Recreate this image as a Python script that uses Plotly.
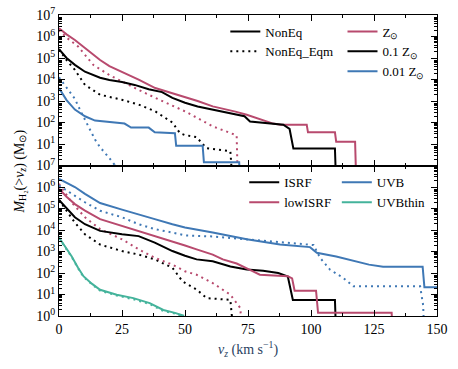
import plotly.graph_objects as go
from plotly.subplots import make_subplots

# colours
PINK = "#b84a6e"
BLUE = "#3f78b5"
TEAL = "#44b39b"
BLACK = "#000000"

# ---- top panel: metallicity runs (solid = NonEq, dotted = NonEq_Eqm)
v_zsun = [0, 3, 6.3, 10.3, 16.3, 20, 24.9, 31.6, 38.2, 44.9, 50, 55, 61, 65, 70, 74.5, 80, 85, 88, 92, 98.3, 98.8, 109.5, 110, 117.5, 118]
m_zsun = [2.4e6, 1.26e6, 6.9e5, 2.95e5, 8.1e4, 4.2e4, 2.3e4, 9.8e3, 4.0e3, 2.3e3, 1.6e3, 1.0e3, 560, 450, 320, 230, 140, 89, 79, 79, 79, 35, 35, 12.6, 12.6, 0.1]

v_z01 = [0, 3, 6.3, 10.3, 16.3, 20, 25, 30, 35.6, 40.9, 45, 50, 55, 61, 68, 73.6, 75.8, 80, 89, 91.5, 93, 109.5, 110]
m_z01 = [2.6e5, 1.0e5, 4.8e4, 2.3e4, 1.2e4, 9.5e3, 7.6e3, 5.6e3, 3.5e3, 2.6e3, 1.4e3, 830, 560, 400, 250, 195, 112, 100, 79, 50, 6.2, 6.2, 0.1]

v_z001 = [0, 3, 6.3, 10.3, 14.3, 22, 26, 28.6, 35.6, 38, 42.3, 46, 46.5, 57, 57.5, 71.5, 72]
m_z001 = [4.0e3, 1.1e3, 400, 195, 123, 100, 89, 58, 58, 35, 32, 32, 8.3, 8.3, 1.4, 1.4, 0.1]

v_zsun_eq = [0, 3, 7.6, 13.6, 20, 24.9, 31.6, 38.2, 44.9, 50, 55, 61, 66, 70.5, 71]
m_zsun_eq = [2.0e6, 8.9e5, 3.4e5, 4.8e4, 1.6e4, 8.1e3, 3.3e3, 1.4e3, 630, 330, 160, 66, 40, 25, 0.1]

v_z01_eq = [0, 3, 6.3, 10.3, 16.3, 24.9, 31.6, 38.2, 45, 48, 50, 54.6, 57, 58.6, 68, 69]
m_z01_eq = [2.5e5, 7.9e4, 2.8e4, 5.6e3, 1.95e3, 1.15e3, 680, 330, 100, 32, 26, 21, 10, 6.3, 4.6, 0.1]

v_z001_eq = [0, 3, 6.3, 8.5, 10.3, 12.3, 14.3, 16.3, 18.3, 20, 22, 22.5]
m_z001_eq = [1.26e4, 4.0e3, 1.26e3, 355, 135, 45, 16, 7.1, 4.0, 2.2, 1.1, 0.1]

# ---- bottom panel: radiation field runs
v_isrf = [0, 3, 6.3, 10.3, 16.3, 25, 31.6, 38, 45, 50, 54.6, 61, 68, 74.5, 81, 87, 90.8, 92.8, 109.5, 110]
m_isrf = [2.5e5, 1.0e5, 3.9e4, 1.86e4, 9.1e3, 6.3e3, 5.2e3, 2.6e3, 1.05e3, 630, 430, 355, 200, 145, 126, 100, 69, 5.6, 5.6, 0.1]

v_low = [0, 3, 6.3, 10.3, 16.3, 25, 31.6, 38, 45, 50, 54.6, 61, 65, 70.5, 77, 79.7, 90.8, 92.5, 93.5, 102, 102.8, 132, 132.5]
m_low = [8.3e5, 3.5e5, 1.6e5, 7.9e4, 3.2e4, 1.55e4, 9.1e3, 5.2e3, 3.1e3, 1.9e3, 1.26e3, 720, 430, 275, 120, 83, 71, 56, 15, 15, 1.4, 1.4, 0.1]

v_uvb = [0, 3, 6.3, 10.3, 16.3, 25, 31.6, 38, 45, 50, 61, 74.5, 87.7, 99.6, 102.3, 110, 123, 128.6, 144.3, 145, 150]
m_uvb = [2.4e6, 1.6e6, 1.0e6, 4.8e5, 1.8e5, 8.9e4, 5.5e4, 3.2e4, 1.86e4, 1.32e4, 7.6e3, 3.7e3, 2.1e3, 1.6e3, 870, 590, 245, 195, 195, 22, 22]

v_thin = [0, 2.5, 5, 7.5, 9.7, 13, 16.3, 22.9, 29.5, 36, 41.4, 46, 49.3, 50]
m_thin = [4.5e3, 1.6e3, 600, 180, 71, 32, 16.6, 9.8, 6.8, 4.0, 1.9, 1.4, 1.05, 0.1]

v_isrf_eq = [0, 3, 6.3, 10.3, 16.3, 25, 31.6, 38, 45, 49, 54.6, 58.6, 68, 69.4]
m_isrf_eq = [2.5e5, 7.9e4, 2.2e4, 6.3e3, 2.1e3, 1.05e3, 720, 430, 175, 41, 17, 6.8, 5.6, 0.1]

v_low_eq = [0, 2, 5, 10.3, 16.3, 25, 31.6, 38, 45, 50, 54.6, 61, 68, 72, 72.5]
m_low_eq = [1.4e6, 6.3e5, 1.95e5, 3.9e4, 1.1e4, 3.7e3, 1.26e3, 510, 245, 120, 83, 34, 9.8, 2.3, 0.1]

v_uvb_eq = [0, 3, 6.3, 10.3, 16.3, 25, 31.6, 38, 45, 50, 61, 74.5, 87.7, 101, 103.6, 107.5, 112.8, 116.8, 143.3, 144.5, 145]
m_uvb_eq = [1.17e6, 7.1e5, 4.0e5, 1.95e5, 7.9e4, 3.9e4, 1.86e4, 1.1e4, 7.6e3, 5.6e3, 5.0e3, 3.7e3, 2.6e3, 2.0e3, 510, 145, 59, 24, 24, 3.2, 0.1]

v_thin_eq = [0, 2.5, 5, 7.5, 9.7, 13, 16.3, 22.9, 29.5, 36, 41.4, 46, 48, 48.5]
m_thin_eq = [4.2e3, 1.5e3, 560, 170, 66, 30, 15, 9.0, 6.0, 3.6, 1.7, 1.3, 1.05, 0.1]

FONT = "Liberation Serif"
DOT = "2px,4px"
LW = 2

fig = make_subplots(rows=2, cols=1, shared_xaxes=True, vertical_spacing=0)


def add_line(x, y, color, row, dash="solid", name=None, legend="legend"):
    fig.add_trace(go.Scatter(x=x, y=y, mode="lines", line=dict(color=color, width=LW, dash=dash),
                             name=name, showlegend=name is not None, legend=legend), row=row, col=1)


# top panel curves
add_line(v_zsun_eq, m_zsun_eq, PINK, 1, DOT)
add_line(v_z01_eq, m_z01_eq, BLACK, 1, DOT)
add_line(v_z001_eq, m_z001_eq, BLUE, 1, DOT)
add_line(v_zsun, m_zsun, PINK, 1, name="Z<sub>⊙</sub>", legend="legend2")
add_line(v_z01, m_z01, BLACK, 1, name="0.1 Z<sub>⊙</sub>", legend="legend2")
add_line(v_z001, m_z001, BLUE, 1, name="0.01 Z<sub>⊙</sub>", legend="legend2")
# style-only legend entries
add_line([None], [None], BLACK, 1, name="NonEq", legend="legend")
add_line([None], [None], BLACK, 1, DOT, name="NonEq_Eqm", legend="legend")

# bottom panel curves
add_line(v_isrf_eq, m_isrf_eq, BLACK, 2, DOT)
add_line(v_low_eq, m_low_eq, PINK, 2, DOT)
add_line(v_uvb_eq, m_uvb_eq, BLUE, 2, DOT)
add_line(v_thin_eq, m_thin_eq, TEAL, 2, DOT)
add_line(v_isrf, m_isrf, BLACK, 2, name="ISRF", legend="legend3")
add_line(v_low, m_low, PINK, 2, name="lowISRF", legend="legend3")
add_line(v_uvb, m_uvb, BLUE, 2, name="UVB", legend="legend4")
add_line(v_thin, m_thin, TEAL, 2, name="UVBthin", legend="legend4")

minor_vals = [k * 10 ** e for e in range(0, 7) for k in range(2, 10)]
exps_top = list(range(1, 8))
exps_bot = list(range(0, 8))

yax_common = dict(type="log", range=[0, 7], showline=True, linecolor="black", linewidth=1, mirror="allticks",
                  ticks="inside", ticklen=6, tickcolor="black", showgrid=False, zeroline=False, automargin=False,
                  tickfont=dict(family=FONT, size=14, color="black"),
                  minor=dict(tickvals=minor_vals, ticks="inside", ticklen=3, tickcolor="black", showgrid=False))
fig.update_yaxes(**yax_common, tickvals=[10 ** e for e in exps_top],
                 ticktext=["10<sup>%d</sup>" % e for e in exps_top], row=1, col=1)
fig.update_yaxes(**yax_common, tickvals=[10 ** e for e in exps_bot],
                 ticktext=["10<sup>%d</sup>" % e for e in exps_bot], row=2, col=1)

fig.update_xaxes(range=[0, 150], tick0=0, dtick=25, showline=True, linecolor="black", linewidth=1,
                 mirror="allticks", ticks="inside", ticklen=6, tickcolor="black", showgrid=False, zeroline=False,
                 automargin=False, tickfont=dict(family=FONT, size=14, color="black"),
                 minor=dict(dtick=12.5, ticks="inside", ticklen=3, tickcolor="black", showgrid=False))
fig.update_xaxes(showticklabels=False, row=1, col=1)
fig.update_xaxes(title=dict(text="<i>v<sub>z</sub></i> (km s<sup>−1</sup>)", font=dict(family=FONT, size=14),
                            standoff=8), row=2, col=1)

leg = dict(bgcolor="rgba(0,0,0,0)", font=dict(family=FONT, size=13, color="black"),
           xanchor="left", yanchor="top", tracegroupgap=0, itemwidth=30)
fig.update_layout(
    width=458, height=369,
    margin=dict(l=59, r=21, t=15, b=53, autoexpand=False),
    paper_bgcolor="white", plot_bgcolor="white",
    legend=dict(leg, x=0.44, y=0.995),
    legend2=dict(leg, x=0.75, y=0.995),
    legend3=dict(leg, x=0.49, y=0.494),
    legend4=dict(leg, x=0.735, y=0.494),
    annotations=[dict(text="<i>M</i><sub>H₂</sub>(><i>v<sub>z</sub></i>) (M<sub>⊙</sub>)", xref="paper", yref="paper",
                      x=-0.103, y=0.48, textangle=-90, showarrow=False, xanchor="center", yanchor="middle",
                      font=dict(family=FONT, size=14, color="black"))],
)

fig.write_html("out.html", config={"displayModeBar": False},
               post_script="document.body.style.margin='0px';")
